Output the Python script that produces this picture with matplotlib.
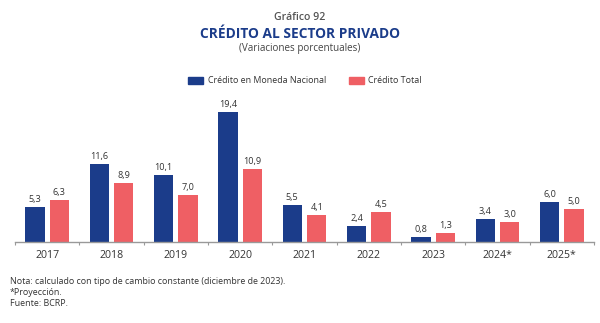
import matplotlib
matplotlib.use("Agg")
import matplotlib.pyplot as plt
import numpy as np
from matplotlib.patches import Rectangle

plt.rcParams['font.family'] = ['Open Sans', 'DejaVu Sans']

categories = ["2017", "2018", "2019", "2020", "2021", "2022", "2023", "2024*", "2025*"]
mn_values = [5.3, 11.6, 10.1, 19.4, 5.5, 2.4, 0.8, 3.4, 6.0]
total_values = [6.3, 8.9, 7.0, 10.9, 4.1, 4.5, 1.3, 3.0, 5.0]
series_names = ["Crédito en Moneda Nacional", "Crédito Total"]

BLUE = "#1B3C8A"
RED = "#EF5F64"
TEXT = "#333333"

fig = plt.figure(figsize=(6.0, 3.23), dpi=100)
ax = fig.add_axes([0.025, 1 - 242/323, 0.965, (242 - 100)/323])

x = np.arange(len(categories))
w = 0.30
off = 0.19
ax.bar(x - off, mn_values, width=w, color=BLUE)
ax.bar(x + off, total_values, width=w, color=RED)

def fmt(v):
    return f"{v:.1f}".replace(".", ",")

for xi, v in zip(x, mn_values):
    ax.text(xi - off, v + 0.45, fmt(v), ha='center', va='bottom', fontsize=6.6, color=TEXT)
for xi, v in zip(x, total_values):
    ax.text(xi + off, v + 0.45, fmt(v), ha='center', va='bottom', fontsize=6.6, color=TEXT)

ax.set_xlim(-0.5, len(categories) - 0.5)
ax.set_ylim(0, 21.25)
for s in ['top', 'right', 'left']:
    ax.spines[s].set_visible(False)
ax.spines['bottom'].set_color('#999999')
ax.spines['bottom'].set_linewidth(1.0)
ax.set_yticks([])
ax.set_xticks(np.arange(len(categories) + 1) - 0.5, minor=False)
ax.set_xticklabels([])
ax.tick_params(axis='x', which='major', length=2, color='#999999', direction='out')
ax.set_xticks(x, minor=True)
ax.set_xticklabels(categories, minor=True, fontsize=7.6, color=TEXT)
ax.tick_params(axis='x', which='minor', length=0, pad=6)

fig.text(0.5, 1 - 17/323, "Gráfico 92", ha='center', va='center', fontsize=7.6, color='#555555', fontweight='semibold')
fig.text(0.5, 1 - 34/323, "CRÉDITO AL SECTOR PRIVADO", ha='center', va='center', fontsize=9.9, color=BLUE, fontweight='bold')
fig.text(0.5, 1 - 49/323, "(Variaciones porcentuales)", ha='center', va='center', fontsize=7.1, color='#444444')

# legend
ly = 1 - 80.5/323
fig.patches.append(Rectangle((187.5/600, 1 - 84/323), 15/600, 7/323, transform=fig.transFigure, color=BLUE))
fig.text(207.5/600, ly, series_names[0], ha='left', va='center', fontsize=6.4, color=TEXT)
fig.patches.append(Rectangle((348.5/600, 1 - 84/323), 15/600, 7/323, transform=fig.transFigure, color=RED))
fig.text(367.5/600, ly, series_names[1], ha='left', va='center', fontsize=6.4, color=TEXT)

notes = ["Nota: calculado con tipo de cambio constante (diciembre de 2023).",
         "*Proyección.",
         "Fuente: BCRP."]
for i, n in enumerate(notes):
    fig.text(10/600, 1 - (281 + i * 11.5)/323, n, ha='left', va='center', fontsize=6.4, color=TEXT)

fig.savefig("out.png", dpi=100)
